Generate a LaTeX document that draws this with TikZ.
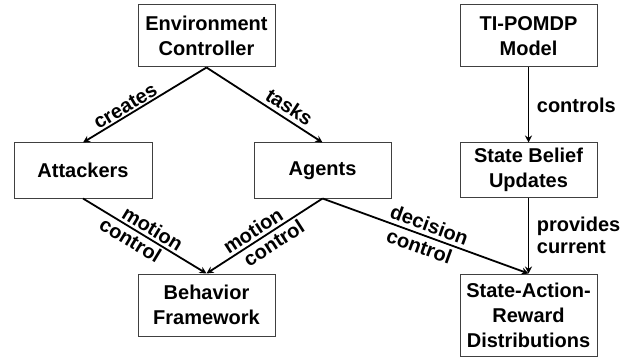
\documentclass[tikz,border=0pt]{standalone}
\usepackage{fontspec}
\setmainfont{Liberation Sans}
\usetikzlibrary{arrows.meta}
\tikzset{
  box/.style={draw=black!75, line width=1pt, fill=white, align=center, inner sep=0pt,
    font=\fontsize{20}{25}\selectfont\bfseries},
  conn/.style={line width=1.8pt, -{Stealth[length=7pt,width=7pt]}},
  lbl/.style={font=\fontsize{20}{25}\selectfont\bfseries, inner sep=1.5pt}
}
\begin{document}
\begin{tikzpicture}[x=1pt,y=-1pt]
\useasboundingbox[fill=white] (0,0) rectangle (639,358);
\node[box, minimum width=137pt, minimum height=62pt] (ec) at (206.5,36) {Environment\\Controller};
\node[box, minimum width=137pt, minimum height=62pt] (ti) at (528.5,36) {TI-POMDP\\Model};
\node[box, minimum width=138pt, minimum height=55pt] (att) at (83,170.5) {Attackers};
\node[box, minimum width=137pt, minimum height=55pt] (ag) at (322.5,170.5) {Agents};
\node[box, minimum width=137pt, minimum height=54pt] (sbu) at (528.5,170) {State Belief\\Updates};
\node[box, minimum width=137pt, minimum height=62pt] (bf) at (206.5,305) {Behavior\\Framework};
\node[box, minimum width=137pt, minimum height=82pt] (sard) at (528.5,315) {State-Action-\\Reward\\Distributions};

\draw[conn] (ec.south) -- node[lbl, pos=0.62, above, sloped] {creates} (att.north);
\draw[conn] (ec.south) -- node[lbl, pos=0.66, above=2pt, sloped] {tasks} (ag.north);
\draw[conn] (att.south) -- node[lbl, pos=0.52, above=1pt, sloped] {motion} node[lbl, pos=0.43, below=1pt, sloped] {control} (bf.north);
\draw[conn] (ag.south) -- node[lbl, pos=0.55, above=1pt, sloped] {motion} node[lbl, pos=0.47, below=1pt, sloped] {control} (bf.north);
\draw[conn] (ag.south) -- node[lbl, pos=0.5, above=2pt, sloped] {decision} node[lbl, pos=0.49, below=2pt, sloped] {control} (sard.north);
\draw[conn] (ti.south) -- node[lbl, right=6pt] {controls} (sbu.north);
\draw[conn] (sbu.south) -- node[lbl, right=6pt, align=left, font=\fontsize{20}{22}\selectfont\bfseries] {provides\\current} (sard.north);
\end{tikzpicture}
\end{document}
